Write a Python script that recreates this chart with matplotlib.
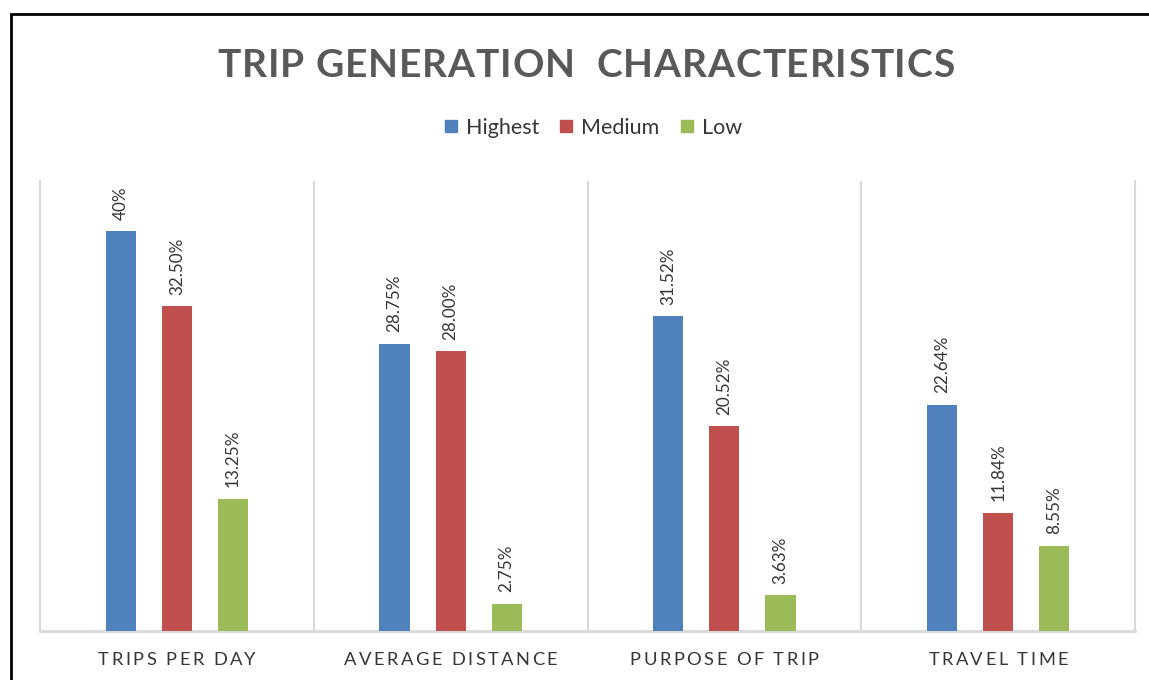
import numpy as np
import matplotlib
matplotlib.use("Agg")
import matplotlib.pyplot as plt
from matplotlib.lines import Line2D
from matplotlib.patches import Rectangle
from matplotlib.font_manager import FontProperties, findfont
from matplotlib.ft2font import FT2Font

# ---- data ----
categories = ["TRIPS PER DAY", "AVERAGE DISTANCE", "PURPOSE OF TRIP", "TRAVEL TIME"]
series_names = ["Highest", "Medium", "Low"]
highest = [40.0, 28.75, 31.52, 22.64]
medium = [32.5, 28.0, 20.52, 11.84]
low = [13.25, 2.75, 3.63, 8.55]
value_labels = {
    "Highest": ["40%", "28.75%", "31.52%", "22.64%"],
    "Medium": ["32.50%", "28.00%", "20.52%", "11.84%"],
    "Low": ["13.25%", "2.75%", "3.63%", "8.55%"],
}
title = "TRIP GENERATION  CHARACTERISTICS"

colors = ["#4F81BD", "#C0504D", "#9BBB59"]
grid_color = "#D9D9D9"
text_color = "#363636"

W, H, DPI = 1149, 680, 100
fig = plt.figure(figsize=(W / DPI, H / DPI), dpi=DPI)
fig.patch.set_facecolor("white")

ax = fig.add_axes([40 / W, 1 - 631 / H, (1135 - 40) / W, (631 - 181) / H])
x = np.arange(len(categories))
bw = 0.11
step = 0.205
for i, (name, vals) in enumerate(zip(series_names, [highest, medium, low])):
    pos = x + (i - 1) * step
    ax.bar(pos, vals, width=bw, color=colors[i], zorder=3, label=name)
    for xi, v, lab in zip(pos, vals, value_labels[name]):
        ax.annotate(lab, (xi, v), xytext=(0, 8), textcoords="offset points",
                    rotation=90, ha="center", va="bottom", fontsize=12.3,
                    family="Lato", color=text_color)

ax.set_xlim(-0.5, len(categories) - 0.5)
ax.set_ylim(0, 45)
ax.set_yticks([])
ax.set_xticks([])
ax.set_xticks(np.arange(0.5, len(categories) - 0.5, 1.0), minor=True)
ax.tick_params(which="both", length=0, labelbottom=False)
ax.grid(which="minor", axis="x", color=grid_color, linewidth=1.5, zorder=0)
for side in ["left", "right"]:
    ax.spines[side].set_color(grid_color)
    ax.spines[side].set_linewidth(1.5)
ax.spines["top"].set_visible(False)
ax.spines["bottom"].set_color(grid_color)
ax.spines["bottom"].set_linewidth(2)


def tracked_text(x_px, y_px, s, size, weight, color, tracking_px, family="Lato"):
    """Draw s centred at x_px with extra letter spacing (pixels from top-left)."""
    fp = FontProperties(family=family, weight=weight, size=size)
    font = FT2Font(findfont(fp))
    font.set_size(size, DPI)
    adv = [font.load_char(ord(c)).linearHoriAdvance / 65536.0 for c in s]
    total = sum(adv) + tracking_px * (len(s) - 1)
    cur = x_px - total / 2
    for c, a in zip(s, adv):
        if c != " ":
            fig.text(cur / W, 1 - y_px / H, c, fontproperties=fp, color=color,
                     ha="left", va="baseline")
        cur += a + tracking_px


# title
tracked_text(586, 77, title, 28, "bold", "#595959", 0.9)

# category labels
for xi, cat in zip(x, categories):
    cx = ax.transData.transform((xi, 0))[0]
    tracked_text(cx, 665, cat, 13.2, "normal", text_color, 2.4)

# legend
handles = [Line2D([], [], marker="s", linestyle="", color=c, markersize=9)
           for c in colors]
leg = fig.legend(handles, series_names, loc="center", bbox_to_anchor=(592 / W, 1 - 128 / H),
                 ncol=3, frameon=False, prop=FontProperties(family="Lato", size=15.5),
                 handletextpad=0.3, columnspacing=0.85, handlelength=0.8)
for t in leg.get_texts():
    t.set_color(text_color)

# outer frame
fig.patches.append(Rectangle((11 / W, -0.1), 1.2, 1 - 14 / H + 0.1,
                             transform=fig.transFigure, fill=False,
                             edgecolor="black", linewidth=2))

fig.savefig("out.png", dpi=DPI)
